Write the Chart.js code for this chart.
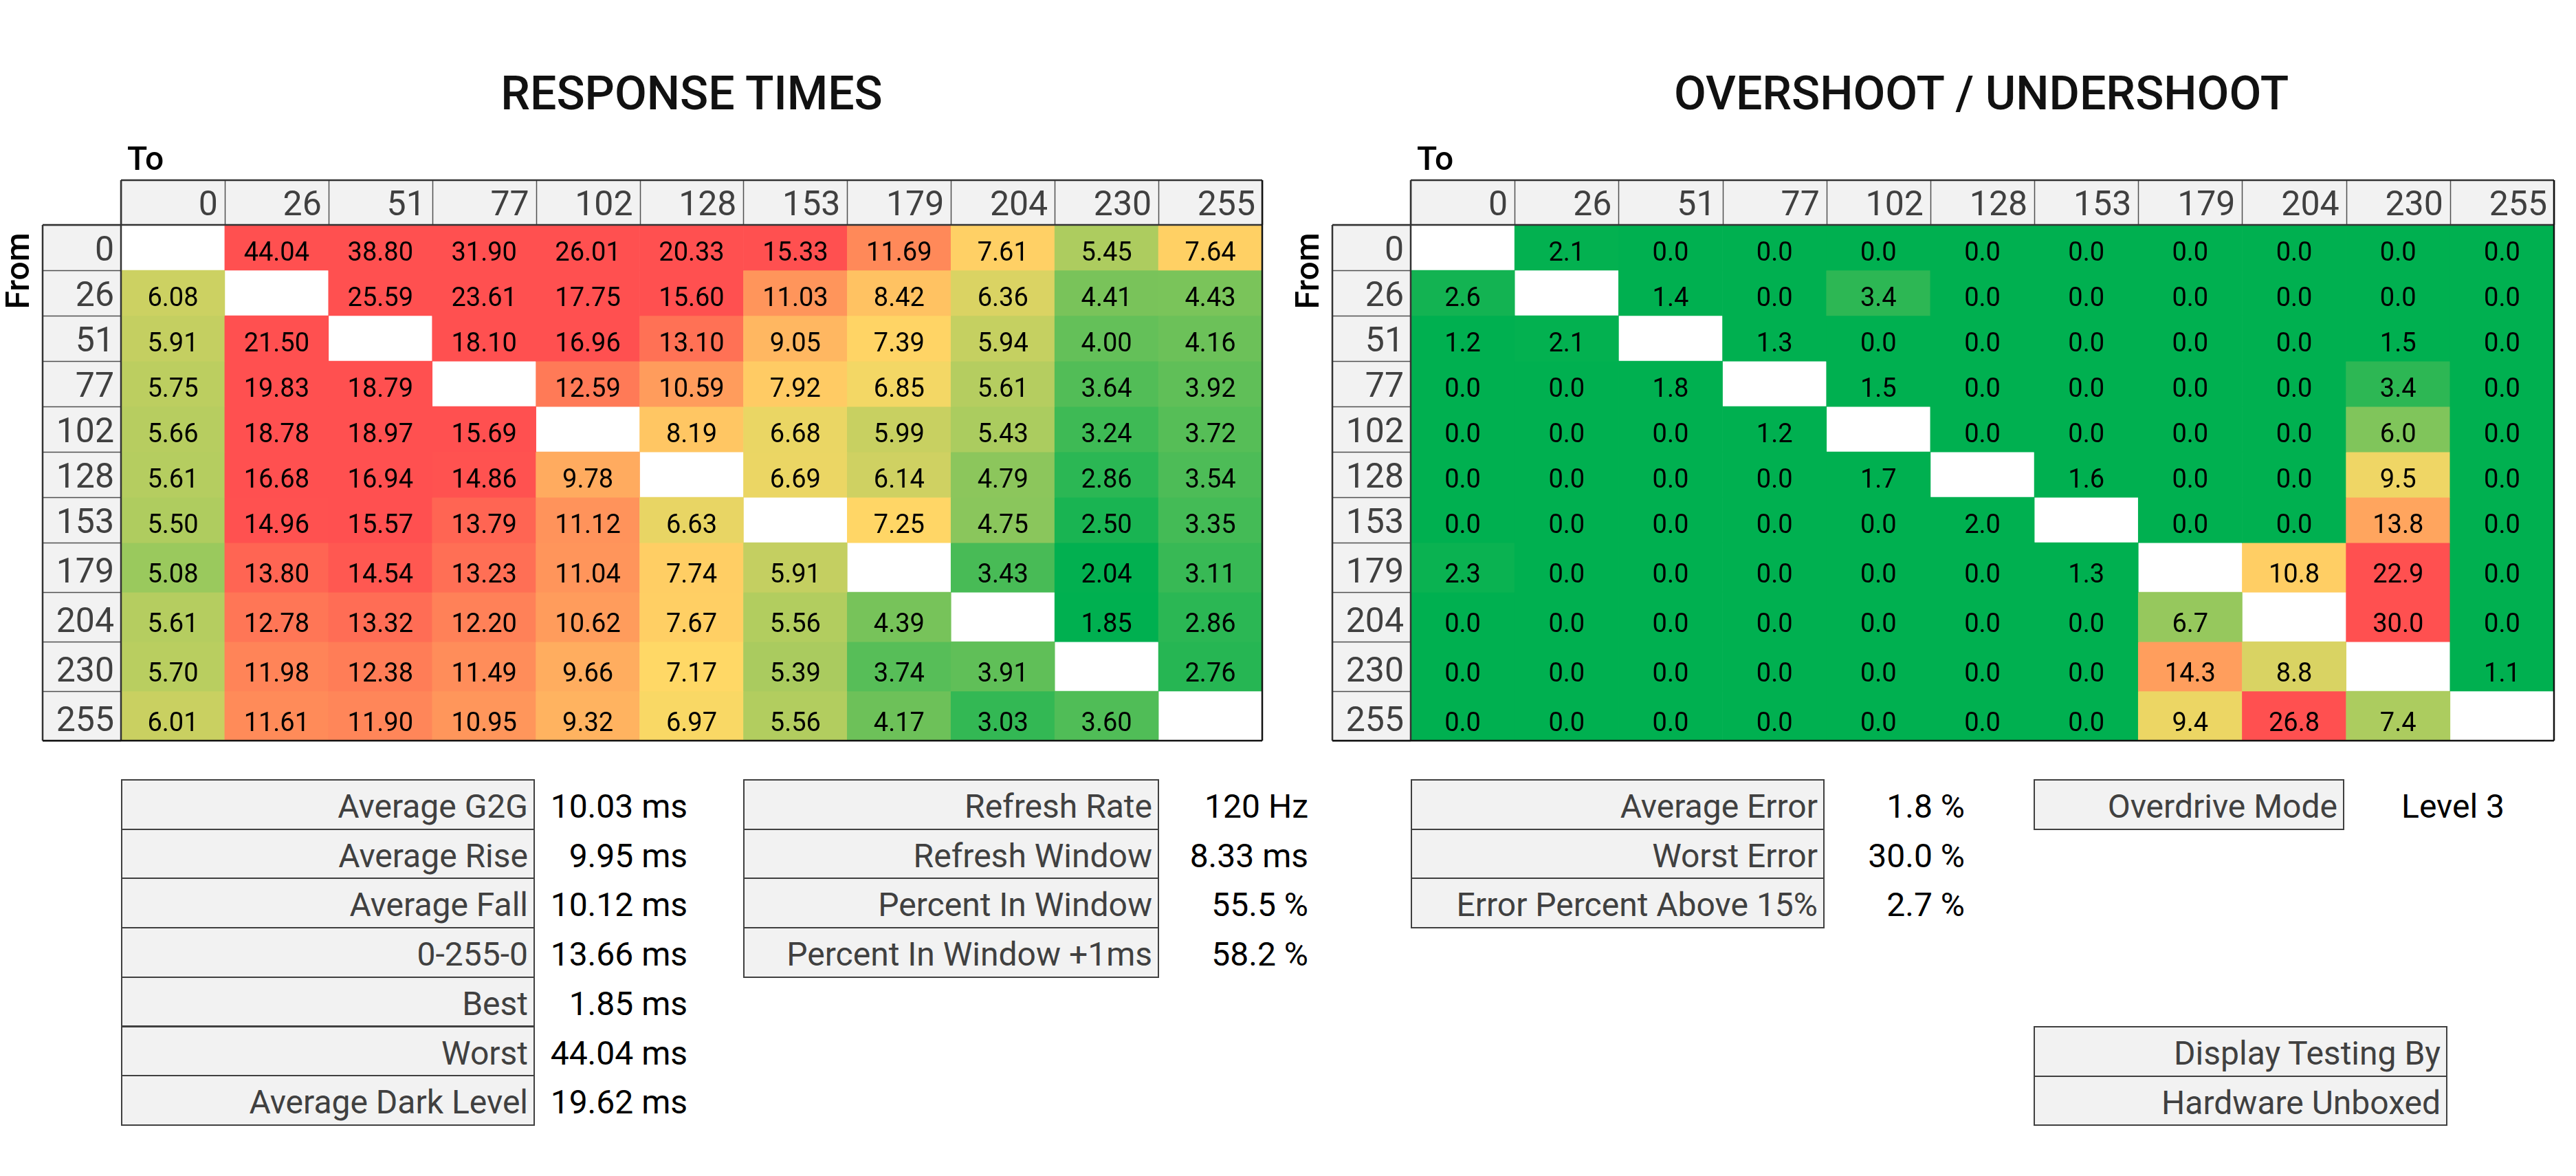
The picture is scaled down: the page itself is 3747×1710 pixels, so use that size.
<!DOCTYPE html>
<html>
<head>
<meta charset="utf-8">
<script src="https://cdn.jsdelivr.net/npm/chart.js@4.4.0/dist/chart.umd.min.js"></script>
<style>
  html, body { margin: 0; padding: 0; background: #fff; }
  body { width: 3747px; height: 1710px; position: relative; overflow: hidden; font-family: Roboto, 'DejaVu Sans', sans-serif; }
  canvas { position: absolute; }
  .title { position: absolute; width: 1200px; font-size: 68px; font-weight: 500; color: #111; text-align: center; line-height: 1; white-space: nowrap; }
  .lbl { position: absolute; box-sizing: border-box; background: #f2f2f2; border: 2px solid #404040; color: #404040; font-size: 48px; text-align: right; padding-right: 8px; line-height: 76px; white-space: nowrap; overflow: hidden; }
  .val { position: absolute; width: 400px; font-size: 48px; color: #000; text-align: right; line-height: 76px; white-space: nowrap; }
</style>
</head>
<body>
<div class="title" style="left:406px;top:102px">RESPONSE TIMES</div>
<div class="title" style="left:2282px;top:102px">OVERSHOOT / UNDERSHOOT</div>
<canvas id="rtChart" width="1900" height="920" style="left:0;top:180px"></canvas>
<canvas id="osChart" width="1867" height="920" style="left:1880px;top:180px"></canvas>
<div id="tables"></div>
<script>
// grey levels (To columns / From rows)
const levels = ['0', '26', '51', '77', '102', '128', '153', '179', '204', '230', '255'];

// response times (ms), one array per "From" row, null on the diagonal
const rt0   = [null, 44.04, 38.80, 31.90, 26.01, 20.33, 15.33, 11.69, 7.61, 5.45, 7.64];
const rt26  = [6.08, null, 25.59, 23.61, 17.75, 15.60, 11.03, 8.42, 6.36, 4.41, 4.43];
const rt51  = [5.91, 21.50, null, 18.10, 16.96, 13.10, 9.05, 7.39, 5.94, 4.00, 4.16];
const rt77  = [5.75, 19.83, 18.79, null, 12.59, 10.59, 7.92, 6.85, 5.61, 3.64, 3.92];
const rt102 = [5.66, 18.78, 18.97, 15.69, null, 8.19, 6.68, 5.99, 5.43, 3.24, 3.72];
const rt128 = [5.61, 16.68, 16.94, 14.86, 9.78, null, 6.69, 6.14, 4.79, 2.86, 3.54];
const rt153 = [5.50, 14.96, 15.57, 13.79, 11.12, 6.63, null, 7.25, 4.75, 2.50, 3.35];
const rt179 = [5.08, 13.80, 14.54, 13.23, 11.04, 7.74, 5.91, null, 3.43, 2.04, 3.11];
const rt204 = [5.61, 12.78, 13.32, 12.20, 10.62, 7.67, 5.56, 4.39, null, 1.85, 2.86];
const rt230 = [5.70, 11.98, 12.38, 11.49, 9.66, 7.17, 5.39, 3.74, 3.91, null, 2.76];
const rt255 = [6.01, 11.61, 11.90, 10.95, 9.32, 6.97, 5.56, 4.17, 3.03, 3.60, null];

// overshoot / undershoot (%)
const os0   = [null, 2.1, 0.0, 0.0, 0.0, 0.0, 0.0, 0.0, 0.0, 0.0, 0.0];
const os26  = [2.6, null, 1.4, 0.0, 3.4, 0.0, 0.0, 0.0, 0.0, 0.0, 0.0];
const os51  = [1.2, 2.1, null, 1.3, 0.0, 0.0, 0.0, 0.0, 0.0, 1.5, 0.0];
const os77  = [0.0, 0.0, 1.8, null, 1.5, 0.0, 0.0, 0.0, 0.0, 3.4, 0.0];
const os102 = [0.0, 0.0, 0.0, 1.2, null, 0.0, 0.0, 0.0, 0.0, 6.0, 0.0];
const os128 = [0.0, 0.0, 0.0, 0.0, 1.7, null, 1.6, 0.0, 0.0, 9.5, 0.0];
const os153 = [0.0, 0.0, 0.0, 0.0, 0.0, 2.0, null, 0.0, 0.0, 13.8, 0.0];
const os179 = [2.3, 0.0, 0.0, 0.0, 0.0, 0.0, 1.3, null, 10.8, 22.9, 0.0];
const os204 = [0.0, 0.0, 0.0, 0.0, 0.0, 0.0, 0.0, 6.7, null, 30.0, 0.0];
const os230 = [0.0, 0.0, 0.0, 0.0, 0.0, 0.0, 0.0, 14.3, 8.8, null, 1.1];
const os255 = [0.0, 0.0, 0.0, 0.0, 0.0, 0.0, 0.0, 9.4, 26.8, 7.4, null];

// summary tables
const rtStatLabels = ['Average G2G', 'Average Rise', 'Average Fall', '0-255-0', 'Best', 'Worst', 'Average Dark Level'];
const rtStatValues = ['10.03 ms', '9.95 ms', '10.12 ms', '13.66 ms', '1.85 ms', '44.04 ms', '19.62 ms'];
const refreshLabels = ['Refresh Rate', 'Refresh Window', 'Percent In Window', 'Percent In Window +1ms'];
const refreshValues = ['120 Hz', '8.33 ms', '55.5 %', '58.2 %'];
const errorLabels = ['Average Error', 'Worst Error', 'Error Percent Above 15%'];
const errorValues = ['1.8 %', '30.0 %', '2.7 %'];
const modeLabels = ['Overdrive Mode'];
const modeValues = ['Level 3'];
const creditLabels = ['Display Testing By', 'Hardware Unboxed'];

// layout: the last four rows of the sheet are a little taller
const rowSpan = [1, 1, 1, 1, 1, 1, 1, 1.09, 1.09, 1.09, 1.09];
const rowEdges = rowSpan.reduce((acc, s) => { acc.push(acc[acc.length - 1] + s); return acc; }, [0]);

const FONT = "Roboto, 'DejaVu Sans', sans-serif";

function hexToRgb(h) {
  return [parseInt(h.slice(1, 3), 16), parseInt(h.slice(3, 5), 16), parseInt(h.slice(5, 7), 16)];
}

// 3-colour scale like the spreadsheet's conditional formatting
function scaleColor(v, stops) {
  if (v <= stops[0][0]) return stops[0][1];
  for (let i = 1; i < stops.length; i++) {
    if (v <= stops[i][0]) {
      const t = (v - stops[i - 1][0]) / (stops[i][0] - stops[i - 1][0]);
      const a = hexToRgb(stops[i - 1][1]), b = hexToRgb(stops[i][1]);
      const c = a.map((x, k) => Math.round(x + (b[k] - x) * t));
      return `rgb(${c[0]},${c[1]},${c[2]})`;
    }
  }
  return stops[stops.length - 1][1];
}

const matrixFrame = {
  id: 'matrixFrame',
  afterDatasetsDraw(chart, args, opts) {
    const { ctx, chartArea: a, scales: { x, y } } = chart;
    const colW = a.width / levels.length;
    const headH = 65, labW = 114;
    ctx.save();

    // cell values
    ctx.font = `38px ${FONT}`;
    ctx.fillStyle = '#000';
    ctx.textAlign = 'center';
    ctx.textBaseline = 'alphabetic';
    chart.data.datasets.forEach((ds, r) => {
      const meta = chart.getDatasetMeta(r);
      const bottom = y.getPixelForValue(rowEdges[r + 1]);
      ds.values.forEach((v, c) => {
        if (v === null) return;
        ctx.fillText(v.toFixed(opts.decimals), meta.data[c].x, bottom - 14);
      });
    });

    // header row (To)
    ctx.font = `50px ${FONT}`;
    ctx.textAlign = 'right';
    levels.forEach((lab, c) => {
      const cx = x.getPixelForValue(c);
      ctx.fillStyle = '#f2f2f2';
      ctx.fillRect(cx - colW / 2, a.top - headH, colW, headH);
      ctx.fillStyle = '#404040';
      ctx.fillText(lab, cx + colW / 2 - 10, a.top - 14);
    });
    // label column (From)
    levels.forEach((lab, r) => {
      const top = y.getPixelForValue(rowEdges[r]);
      const bottom = y.getPixelForValue(rowEdges[r + 1]);
      ctx.fillStyle = '#f2f2f2';
      ctx.fillRect(a.left - labW, top, labW, bottom - top);
      ctx.fillStyle = '#404040';
      ctx.fillText(lab, a.left - 10, bottom - 14);
    });

    // grid lines of header and label column
    ctx.strokeStyle = '#505050';
    ctx.lineWidth = 1.5;
    ctx.beginPath();
    for (let c = 0; c <= levels.length; c++) {
      const gx = Math.round(a.left + c * colW) + 0.5;
      ctx.moveTo(gx, a.top - headH);
      ctx.lineTo(gx, a.top);
    }
    for (let r = 0; r <= levels.length; r++) {
      const gy = Math.round(y.getPixelForValue(rowEdges[r])) + 0.5;
      ctx.moveTo(a.left - labW, gy);
      ctx.lineTo(a.left, gy);
    }
    ctx.stroke();

    ctx.strokeStyle = '#333';
    ctx.lineWidth = 2.5;
    ctx.beginPath();
    ctx.moveTo(a.left, a.top - headH); ctx.lineTo(a.right, a.top - headH);
    ctx.moveTo(a.left - labW, a.top); ctx.lineTo(a.right, a.top);
    ctx.moveTo(a.left - labW, a.top); ctx.lineTo(a.left - labW, a.bottom);
    ctx.moveTo(a.left, a.top - headH); ctx.lineTo(a.left, a.bottom);
    ctx.stroke();

    ctx.strokeStyle = '#111';
    ctx.beginPath();
    ctx.moveTo(a.left - labW, a.bottom); ctx.lineTo(a.right, a.bottom);
    ctx.moveTo(a.right, a.top - headH); ctx.lineTo(a.right, a.bottom);
    ctx.stroke();

    // axis captions
    ctx.fillStyle = '#000';
    ctx.font = `500 48px ${FONT}`;
    ctx.textAlign = 'left';
    ctx.fillText('To', a.left + 9, a.top - 80);
    ctx.save();
    ctx.translate(a.left - labW - 20, a.top + 67);
    ctx.rotate(-Math.PI / 2);
    ctx.textAlign = 'center';
    ctx.fillText('From', 0, 0);
    ctx.restore();

    ctx.restore();
  }
};

function buildMatrix(canvasId, rows, stops, decimals, padding) {
  const datasets = rows.map((vals, r) => ({
    data: vals.map(v => (v === null ? null : [rowEdges[r], rowEdges[r + 1]])),
    values: vals,
    backgroundColor: vals.map(v => (v === null ? '#ffffff' : scaleColor(v, stops))),
    borderWidth: 0,
    barPercentage: 1,
    categoryPercentage: 1,
    grouped: false
  }));
  return new Chart(document.getElementById(canvasId).getContext('2d'), {
    type: 'bar',
    data: { labels: levels, datasets },
    options: {
      responsive: false,
      animation: false,
      events: [],
      layout: { padding },
      plugins: {
        legend: { display: false },
        tooltip: { enabled: false },
        matrixFrame: { decimals }
      },
      scales: {
        x: { type: 'category', display: false, offset: true },
        y: { type: 'linear', display: false, reverse: true, min: 0, max: rowEdges[rowEdges.length - 1] }
      }
    },
    plugins: [matrixFrame]
  });
}

buildMatrix('rtChart',
  [rt0, rt26, rt51, rt77, rt102, rt128, rt153, rt179, rt204, rt230, rt255],
  [[2.0, '#00b050'], [7.1, '#ffd966'], [15.0, '#ff5050']], 2,
  { left: 176, top: 147, right: 64, bottom: 23 });

buildMatrix('osChart',
  [os0, os26, os51, os77, os102, os128, os153, os179, os204, os230, os255],
  [[2.0, '#00b050'], [10.0, '#ffd966'], [20.0, '#ff5050']], 1,
  { left: 172, top: 147, right: 32, bottom: 23 });

// summary tables as real text
const ROW_H = 71.7;
function statTable(labels, values, left, right, valueRight, top) {
  const host = document.getElementById('tables');
  labels.forEach((lab, i) => {
    const y = top + i * ROW_H;
    const cell = document.createElement('div');
    cell.className = 'lbl';
    cell.style.left = left + 'px';
    cell.style.top = y + 'px';
    cell.style.width = (right - left) + 'px';
    cell.style.height = (ROW_H + 2) + 'px';
    cell.textContent = lab;
    host.appendChild(cell);
    if (values && values[i] !== undefined) {
      const val = document.createElement('div');
      val.className = 'val';
      val.style.left = (valueRight - 400) + 'px';
      val.style.top = (y + 2) + 'px';
      val.textContent = values[i];
      host.appendChild(val);
    }
  });
}

statTable(rtStatLabels, rtStatValues, 176, 778, 1000, 1133);
statTable(refreshLabels, refreshValues, 1081, 1686, 1903, 1133);
statTable(errorLabels, errorValues, 2052, 2654, 2858, 1133);
statTable(modeLabels, modeValues, 2958, 3410, 3643, 1133);
statTable(creditLabels, null, 2958, 3560, 0, 1492);
</script>
</body>
</html>
